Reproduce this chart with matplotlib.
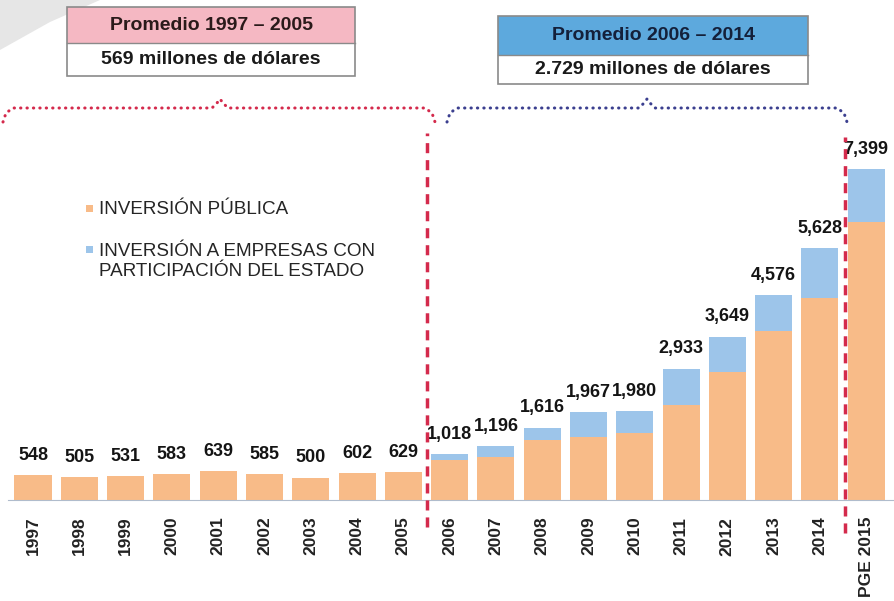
import numpy as np
import matplotlib.pyplot as plt
from matplotlib.patches import Rectangle, Polygon

plt.rcParams['font.family'] = ['Liberation Sans', 'DejaVu Sans']

# === Datos (millones de dólares) ===
years = ['1997', '1998', '1999', '2000', '2001', '2002', '2003', '2004', '2005',
         '2006', '2007', '2008', '2009', '2010', '2011', '2012', '2013', '2014', 'PGE 2015']
publica = [548, 505, 531, 583, 639, 585, 500, 602, 629,
           900, 960, 1330, 1400, 1500, 2120, 2860, 3780, 4510, 6210]
empresas = [0, 0, 0, 0, 0, 0, 0, 0, 0,
            118, 236, 286, 567, 480, 813, 789, 796, 1118, 1189]
totales = [548, 505, 531, 583, 639, 585, 500, 602, 629,
           1018, 1196, 1616, 1967, 1980, 2933, 3649, 4576, 5628, 7399]

COLOR_PUB = '#F8BB88'
COLOR_EMP = '#9DC5EA'
COLOR_RED = '#D42A4C'
COLOR_NAVY = '#3B3F8F'

W, H = 894, 601
fig = plt.figure(figsize=(W / 100, H / 100), dpi=100)


def px(x0, y0, x1, y1):
    # caja en píxeles (origen arriba-izquierda) -> coordenadas de figura
    return [x0 / W, 1 - y1 / H, (x1 - x0) / W, (y1 - y0) / H]


# capa de fondo / anotaciones en píxeles
ov = fig.add_axes([0, 0, 1, 1], zorder=3)
ov.set_xlim(0, W)
ov.set_ylim(H, 0)
ov.axis('off')
ov.patch.set_alpha(0)

# franja gris arriba a la izquierda
ov.add_patch(Polygon([(0, 0), (100, 0), (50, 22), (0, 50)], closed=True,
                     facecolor='#E6E6E6', edgecolor='none', zorder=0))

# === Gráfico de barras ===
ax = fig.add_axes(px(8, 120, 894, 500))
x = np.arange(len(years))
ax.bar(x, publica, width=0.8, color=COLOR_PUB, zorder=2)
ax.bar(x, empresas, bottom=publica, width=0.8, color=COLOR_EMP, zorder=2)
ax.set_xlim(-0.54, 18.6)
ax.set_ylim(0, 8490)

for xi, t in zip(x, totales):
    ax.annotate(f'{t:,}', (xi, t), xytext=(0, 11), textcoords='offset points',
                ha='center', va='baseline', fontsize=13, fontweight='bold', color='#141414')

ax.set_xticks(x, years, rotation=90, fontsize=12.5, fontweight='bold', color='#222222')
ax.tick_params(axis='x', length=0, pad=12)
ax.set_yticks([])
for s in ['top', 'right', 'left']:
    ax.spines[s].set_visible(False)
ax.spines['bottom'].set_color('#B0BCCC')
ax.patch.set_alpha(0)

# líneas rojas de separación
ax.plot([8.51, 8.51], [-600, 8200], color=COLOR_RED, lw=2.5, ls=(0, (2.9, 2)), clip_on=False, zorder=4)
ax.plot([17.54, 17.54], [-740, 8100], color=COLOR_RED, lw=2.5, ls=(0, (2.9, 2)), clip_on=False, zorder=4)


# llaves punteadas
def brace(x0, x1, xm, y, color):
    pts = [(x0, y + 14), (x0 + 3, y + 5), (x0 + 10, y), (xm - 8, y), (xm - 3, y - 5), (xm, y - 9),
           (xm + 3, y - 5), (xm + 8, y), (x1 - 10, y), (x1 - 3, y + 5), (x1, y + 14)]
    xs, ys = zip(*pts)
    ov.plot(xs, ys, color=color, lw=2.2, ls=(0, (0.1, 2.0)), dash_capstyle='round')


brace(3, 435, 220, 108, COLOR_RED)
brace(447, 847, 647, 108, COLOR_NAVY)


# cajas de promedio
def caja(x0, x1, y0, ym, y1, fill, titulo, valor, tcolor):
    ov.add_patch(Rectangle((x0, y0), x1 - x0, ym - y0, facecolor=fill, edgecolor='none'))
    ov.add_patch(Rectangle((x0, ym), x1 - x0, y1 - ym, facecolor='white', edgecolor='none'))
    ov.add_patch(Rectangle((x0, y0), x1 - x0, y1 - y0, facecolor='none', edgecolor='#8A8A8A', lw=1.2))
    ov.plot([x0, x1], [ym, ym], color='#8A8A8A', lw=1)
    xc = (x0 + x1) / 2
    ov.text(xc, (y0 + ym) / 2, titulo, ha='center', va='center', fontsize=14, fontweight='bold', color=tcolor)
    ov.text(xc, (ym + y1) / 2, valor, ha='center', va='center', fontsize=14, fontweight='bold', color='#1A1A1A')


caja(67, 355, 7, 43, 76, '#F5B8C3', 'Promedio 1997 – 2005', '569 millones de dólares', '#2A1A1A')
caja(498, 808, 16, 55, 84, '#5DA9DD', 'Promedio 2006 – 2014', '2.729 millones de dólares', '#14203A')

# leyenda
ov.add_patch(Rectangle((86, 205), 7, 7, facecolor=COLOR_PUB, edgecolor='none'))
ov.text(99, 209, 'INVERSIÓN PÚBLICA', ha='left', va='center', fontsize=13.6, color='#252525')
ov.add_patch(Rectangle((86, 246), 7, 7, facecolor=COLOR_EMP, edgecolor='none'))
ov.text(99, 252, 'INVERSIÓN A EMPRESAS CON', ha='left', va='center', fontsize=13.6, color='#252525')
ov.text(99, 272, 'PARTICIPACIÓN DEL ESTADO', ha='left', va='center', fontsize=13.6, color='#252525')

fig.savefig('out.png', dpi=100)
